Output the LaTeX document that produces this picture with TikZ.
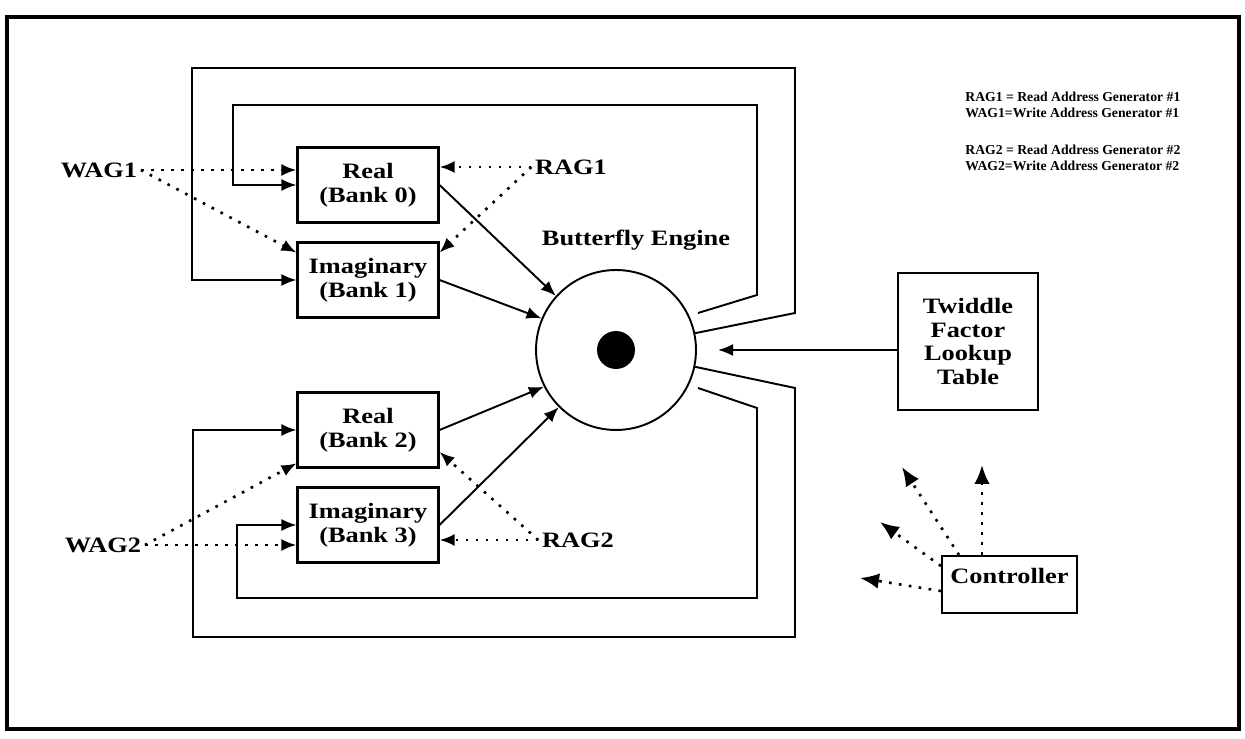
\documentclass[tikz,border=0pt]{standalone}
\usepackage{fontspec}
\setmainfont{Liberation Serif}[FakeStretch=1.2]
\newfontfamily\keyfont{Liberation Serif}
\usetikzlibrary{arrows.meta,calc}

\tikzset{
  bank/.style={draw, line width=1.2pt, minimum width=2.82cm, minimum height=1.5cm, align=center, inner sep=0pt},
  lbl/.style={inner sep=2pt},
  legend/.style={anchor=west, align=left, inner sep=0pt, font=\keyfont\bfseries\fontsize{7.8}{9}\selectfont},
  wire/.style={line width=1.1pt},
  arr/.style={wire, -{Latex[length=3mm,width=2.4mm]}},
  dots/.style={line width=1.5pt, dash pattern=on 1.5pt off 4.2pt, -{Latex[length=3mm,width=2.4mm]}},
  bigtip/.style={-{Latex[length=3.8mm,width=3.1mm]}}
}

\begin{document}
\begin{tikzpicture}[x=0.02cm, y=-0.02cm, font=\bfseries\fontsize{12.5}{13.5}\selectfont]
\useasboundingbox (0,0) rectangle (1245,739);
\draw[line width=2.3pt] (7,17) rectangle (1239,729);

% memory banks
\node[bank] (r0) at (368,185) {Real\\(Bank 0)};
\node[bank] (i1) at (368,280) {Imaginary\\(Bank 1)};
\node[bank] (r2) at (368,430) {Real\\(Bank 2)};
\node[bank] (i3) at (368,525) {Imaginary\\(Bank 3)};

% address generators
\node[lbl] (w1) at (99,170) {WAG1};
\node[lbl] (a1) at (571,167) {RAG1};
\node[lbl] (w2) at (103,545) {WAG2};
\node[lbl] (a2) at (578,540) {RAG2};

% engine
\node[draw, circle, wire, minimum size=3.2cm, inner sep=0pt] (eng) at (616,350) {};
\node[fill, circle, minimum size=0.76cm, inner sep=0pt] (dot) at (eng.center) {};
\node[lbl] (engname) at (636,240) {Butterfly Engine};

\node[draw, wire, minimum width=2.8cm, minimum height=2.74cm, align=center, inner sep=0pt] (tw) at (968,341.5) {Twiddle\\Factor\\Lookup\\Table};
\node[draw, wire, minimum width=2.7cm, minimum height=1.14cm, text depth=0.33cm, inner sep=0pt] (ctl) at (1009.5,584.5) {Controller};

\node[legend] (keyone) at (965,105) {RAG1 = Read Address Generator \#1\\WAG1=Write Address Generator \#1};
\node[legend] (keytwo) at (965,158) {RAG2 = Read Address Generator \#2\\WAG2=Write Address Generator \#2};

\coordinate (ui) at (698,313);
\coordinate (li) at (698,388);
\coordinate (twin) at (718,350);
\coordinate (c1) at (982,465);
\coordinate (c2) at (902,467);
\coordinate (c3) at (880,522);
\coordinate (c4) at (860,578);

% feedback loops
\draw[arr] (eng.12) -- (795,313) |- (192,68) |- (i1.west);
\draw[arr] (ui) -- (757,295) |- (233,105) |- (r0.west);
\draw[arr] (eng.-12) -- (795,388) |- (193,637) |- (r2.west);
\draw[arr] (li) -- (757,408) |- (237,598) |- (i3.west);

% data into engine
\draw[arr] (r0.east) -- (eng.138);
\draw[arr] (i1.east) -- (eng.157);
\draw[arr] (r2.east) -- (eng.207);
\draw[arr] (i3.east) -- (eng.225);
\draw[arr] (tw.west |- twin) -- (twin);

% address lines
\draw[dots] (w1.east) -- (r0.west |- w1.east);
\draw[dots] (w1.east) -- (i1.159);
\draw[dots] (a1.west) -- (r0.east |- a1.west);
\draw[dots] (a1.west) -- (i1.21);
\draw[dots] (w2.east) -- (i3.west |- w2.east);
\draw[dots] (w2.east) -- (r2.205);
\draw[dots] (a2.west) -- (r2.-17);
\draw[dots] (a2.west) -- (i3.east |- a2.west);

% controller
\draw[dots, bigtip] (ctl.north -| c1) -- (c1);
\draw[dots, bigtip] ([xshift=0.36cm]ctl.north west) -- (c2);
\draw[dots, bigtip] ([yshift=-0.22cm]ctl.north west) -- (c3);
\draw[dots, bigtip] ([yshift=-0.72cm]ctl.north west) -- (c4);
\end{tikzpicture}
\end{document}
